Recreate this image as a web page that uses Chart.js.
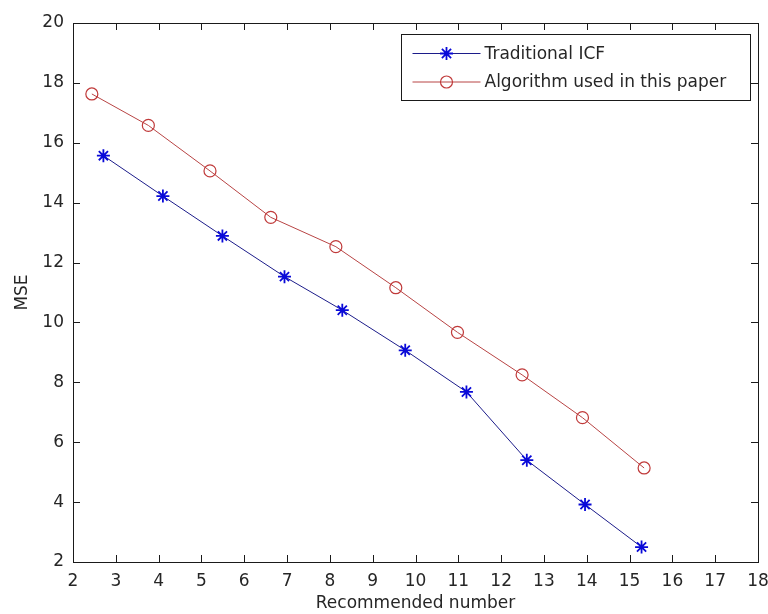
<!DOCTYPE html>
<html>
<head>
<meta charset="utf-8">
<script src="https://cdn.jsdelivr.net/npm/chart.js@4/dist/chart.umd.min.js"></script>
<style>
  body { margin: 0; background: #fff; }
  canvas { display: block; }
</style>
</head>
<body>
<canvas id="chartMSE" width="768" height="614"></canvas>
<script>
// values
const seriesNames = ['Traditional ICF', 'Algorithm used in this paper']
const xTraditional = [2.71, 4.10, 5.49, 6.94, 8.29, 9.76, 11.19, 12.60, 13.96, 15.28]
const yTraditional = [15.57, 14.22, 12.89, 11.53, 10.41, 9.07, 7.68, 5.40, 3.92, 2.50]
const xProposed = [2.44, 3.76, 5.20, 6.62, 8.14, 9.54, 10.98, 12.49, 13.90, 15.34]
const yProposed = [17.63, 16.58, 15.06, 13.51, 12.53, 11.16, 9.67, 8.25, 6.82, 5.14]
const xTicks = [2, 3, 4, 5, 6, 7, 8, 9, 10, 11, 12, 13, 14, 15, 16, 17, 18]
const yTicks = [2, 4, 6, 8, 10, 12, 14, 16, 18, 20]

const toPoints = (xs, ys) => xs.map((x, i) => ({ x: x, y: ys[i] }))

const textColor = '#262626'
const axisColor = '#1a1a1a'
Chart.defaults.font.family = "'DejaVu Sans', sans-serif"
Chart.defaults.font.size = 17
Chart.defaults.color = textColor

// matlab style box with inward ticks plus the legend
const boxPlugin = {
  id: 'matlabBox',
  afterDraw(chart) {
    const ctx = chart.ctx
    const a = chart.chartArea
    const xs = chart.scales.x
    const ys = chart.scales.y
    const tl = 7
    ctx.save()
    ctx.strokeStyle = axisColor
    ctx.lineWidth = 1
    ctx.strokeRect(Math.round(a.left) + 0.5, Math.round(a.top) + 0.5,
      Math.round(a.right - a.left), Math.round(a.bottom - a.top))
    ctx.beginPath()
    xTicks.forEach(v => {
      const px = Math.round(xs.getPixelForValue(v)) + 0.5
      ctx.moveTo(px, a.bottom); ctx.lineTo(px, a.bottom - tl)
      ctx.moveTo(px, a.top); ctx.lineTo(px, a.top + tl)
    })
    yTicks.forEach(v => {
      const py = Math.round(ys.getPixelForValue(v)) + 0.5
      ctx.moveTo(a.left, py); ctx.lineTo(a.left + tl, py)
      ctx.moveTo(a.right, py); ctx.lineTo(a.right - tl, py)
    })
    ctx.stroke()

    // legend
    const bw = 349
    const bh = 66
    const lx = Math.round(a.right - bw - 8) + 0.5
    const by = Math.round(a.top + 11) + 0.5
    ctx.fillStyle = '#fff'
    ctx.fillRect(lx, by, bw, bh)
    ctx.strokeRect(lx, by, bw, bh)
    chart.data.datasets.forEach((ds, i) => {
      const rowY = by + 19 + i * 28.5
      ctx.strokeStyle = ds.borderColor
      ctx.lineWidth = 1
      ctx.beginPath()
      ctx.moveTo(lx + 11, rowY)
      ctx.lineTo(lx + 79, rowY)
      ctx.stroke()
      ctx.strokeStyle = ds.pointBorderColor
      ctx.fillStyle = 'rgba(0,0,0,0)'
      ctx.lineWidth = ds.pointBorderWidth
      Chart.helpers.drawPoint(ctx, {
        pointStyle: ds.pointStyle,
        radius: ds.pointRadius,
        rotation: 0,
        borderWidth: ds.pointBorderWidth
      }, lx + 45, rowY)
      ctx.fillStyle = textColor
      ctx.textBaseline = 'middle'
      ctx.textAlign = 'left'
      ctx.font = "17px 'DejaVu Sans', sans-serif"
      ctx.fillText(ds.label, lx + 83, rowY + 1)
    })
    ctx.restore()
  }
}

const ctx = document.getElementById('chartMSE').getContext('2d')
new Chart(ctx, {
  type: 'line',
  data: {
    datasets: [{
      label: seriesNames[0],
      data: toPoints(xTraditional, yTraditional),
      borderColor: '#1c1c8a',
      borderWidth: 1,
      pointStyle: 'star',
      pointRadius: 6.5,
      pointBorderColor: '#0a0ad8',
      pointBorderWidth: 1.8,
      pointBackgroundColor: '#0a0ad8',
      fill: false,
      tension: 0
    }, {
      label: seriesNames[1],
      data: toPoints(xProposed, yProposed),
      borderColor: '#b84444',
      borderWidth: 1,
      pointStyle: 'circle',
      pointRadius: 6,
      pointBorderColor: '#c03a3a',
      pointBorderWidth: 1.2,
      pointBackgroundColor: 'rgba(0,0,0,0)',
      fill: false,
      tension: 0
    }]
  },
  options: {
    responsive: false,
    animation: false,
    layout: { padding: { top: 23, right: 10, left: 0, bottom: 0 } },
    plugins: {
      legend: { display: false },
      tooltip: { enabled: false }
    },
    scales: {
      x: {
        type: 'linear',
        min: 2,
        max: 18,
        afterBuildTicks: s => { s.ticks = xTicks.map(v => ({ value: v })) },
        afterFit: s => { s.height = 52; s.paddingLeft = 0; s.paddingRight = 0 },
        grid: { display: false, drawTicks: false },
        border: { display: false },
        ticks: { padding: 9, color: textColor, maxRotation: 0, autoSkip: false },
        title: { display: true, text: 'Recommended number', color: textColor, padding: { top: -2, bottom: 0 } }
      },
      y: {
        type: 'linear',
        min: 2,
        max: 20,
        afterBuildTicks: s => { s.ticks = yTicks.map(v => ({ value: v })) },
        afterFit: s => { s.width = 73; s.paddingTop = 0; s.paddingBottom = 0 },
        grid: { display: false, drawTicks: false },
        border: { display: false },
        ticks: { padding: 9, color: textColor, autoSkip: false },
        title: { display: true, text: 'MSE', color: textColor, padding: { top: 12, bottom: 0 } }
      }
    }
  },
  plugins: [boxPlugin]
})
</script>
</body>
</html>
